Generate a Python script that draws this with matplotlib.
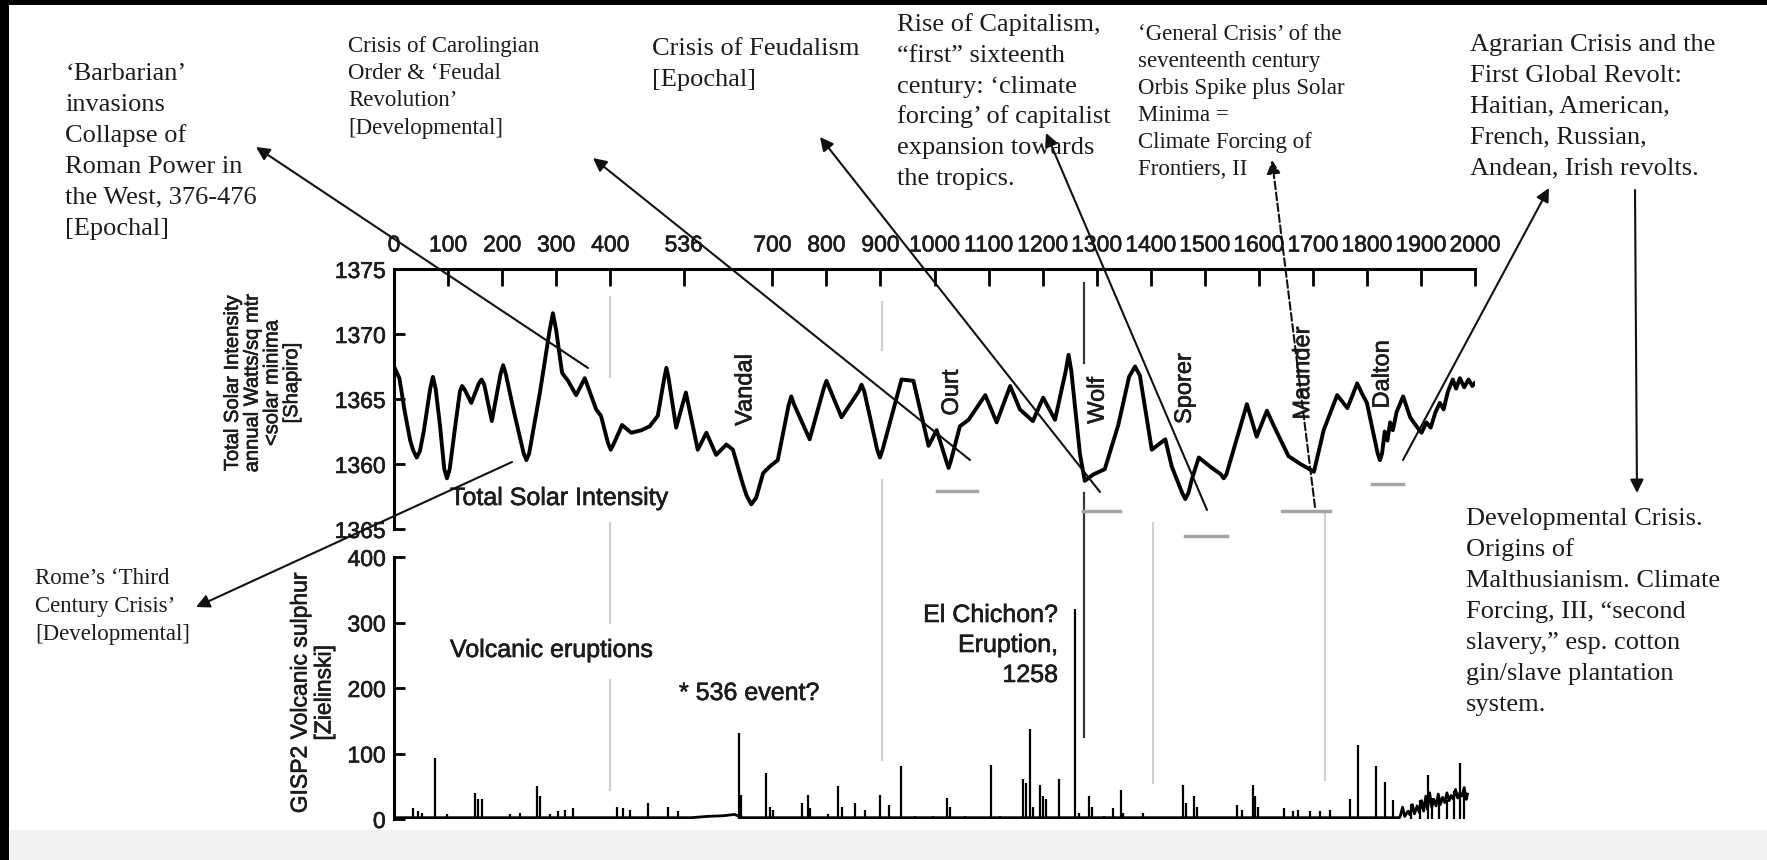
import matplotlib
matplotlib.use('Agg')
import matplotlib.pyplot as plt
import matplotlib.patheffects as pe
from matplotlib.transforms import blended_transform_factory

W, H = 1767, 860
SANS = ['Liberation Sans', 'DejaVu Sans']
SERIF = ['Liberation Serif', 'DejaVu Serif']
INK = '#1c1c1c'
HEAVY = [pe.withStroke(linewidth=0.45, foreground=INK)]

# Total solar intensity (Shapiro), W/m2
tsi_years = [0, 10, 20, 30, 36, 42, 48, 55, 67, 72, 77, 85, 93, 98, 103, 112, 122, 126, 131,
             143, 157, 162, 167, 181, 197, 202, 207, 222, 240, 245, 250, 270, 288, 294, 300,
             311, 322, 337, 353, 374, 383, 396, 401, 406, 422, 439, 458, 473, 488, 500, 504,
             508, 522, 540, 562, 578, 596, 615, 627, 645, 652, 661, 670, 683, 695, 710, 730,
             735, 740, 769, 795, 800, 805, 828, 860, 865, 870, 894, 899, 904, 939, 961, 989,
             1004, 1022, 1026, 1030, 1047, 1063, 1094, 1115, 1140, 1158, 1182, 1201, 1223,
             1243, 1248, 1253, 1269, 1278, 1294, 1315, 1340, 1360, 1371, 1380, 1402, 1427,
             1439, 1458, 1464, 1470, 1476, 1489, 1510, 1530, 1535, 1540, 1578, 1596, 1615,
             1627, 1655, 1677, 1702, 1720, 1745, 1764, 1782, 1790, 1800, 1820, 1824, 1828,
             1833, 1838, 1843, 1848, 1855, 1867, 1880, 1890, 1901, 1910, 1918, 1927, 1935,
             1942, 1950, 1959, 1965, 1972, 1980, 1988, 1995, 2001]
tsi_vals = [1367.5, 1366.6, 1364.0, 1361.8, 1361.0, 1360.5, 1361.0, 1362.5, 1365.8, 1366.7,
            1365.8, 1363.0, 1359.6, 1358.9, 1359.6, 1362.5, 1365.6, 1366.0, 1365.7, 1364.7,
            1366.2, 1366.5, 1366.1, 1363.3, 1366.9, 1367.6, 1366.9, 1364.0, 1360.8, 1360.3,
            1360.8, 1365.5, 1370.3, 1371.6, 1370.3, 1367.0, 1366.4, 1365.3, 1366.6, 1364.2,
            1363.7, 1361.6, 1361.1, 1361.5, 1363.0, 1362.4, 1362.6, 1362.9, 1363.7, 1366.6,
            1367.4, 1366.6, 1362.8, 1365.5, 1361.1, 1362.4, 1360.7, 1361.5, 1361.1, 1358.5,
            1357.6, 1356.9, 1357.4, 1359.3, 1359.8, 1360.3, 1364.5, 1365.2, 1364.6, 1361.9,
            1365.8, 1366.4, 1365.9, 1363.6, 1365.6, 1366.1, 1365.6, 1361.1, 1360.5, 1361.1,
            1366.5, 1366.4, 1361.4, 1362.6, 1360.2, 1359.7, 1360.2, 1362.9, 1363.4, 1365.3,
            1363.2, 1366.0, 1364.2, 1363.3, 1365.1, 1363.4, 1367.2, 1368.4, 1367.2, 1360.8,
            1358.7, 1359.2, 1359.6, 1363.0, 1366.7, 1367.5, 1366.8, 1361.1, 1361.9, 1359.8,
            1357.8, 1357.3, 1357.8, 1358.8, 1360.5, 1359.8, 1359.2, 1358.9, 1359.2, 1364.6,
            1362.1, 1364.1, 1363.0, 1360.6, 1360.0, 1359.4, 1362.6, 1365.3, 1364.3, 1366.2,
            1365.5, 1364.7, 1360.8, 1360.3, 1360.8, 1362.5, 1361.8, 1363.2, 1362.6, 1364.0,
            1365.2, 1363.6, 1363.0, 1362.4, 1363.2, 1362.8, 1364.0, 1364.7, 1364.2, 1365.6,
            1366.5, 1365.8, 1366.6, 1365.9, 1366.5, 1366.0, 1366.3]

# GISP2 volcanic sulphur (Zielinski), spikes
volc_years = [36, 45, 51, 76, 98, 150, 156, 162, 214, 233, 265, 270, 289, 304, 317, 332,
              413, 424, 436, 470, 507, 526, 639, 642, 689, 695, 701, 754, 766, 769, 803,
              822, 828, 853, 871, 899, 915, 938, 964, 998, 1024, 1029, 1057, 1105, 1121,
              1164, 1169, 1177, 1182, 1195, 1201, 1207, 1231, 1260, 1268, 1285, 1291, 1313,
              1331, 1345, 1349, 1385, 1460, 1465, 1480, 1485, 1559, 1568, 1589, 1593, 1599,
              1646, 1664, 1673, 1695, 1713, 1732, 1769, 1784, 1817, 1834, 1848, 1882, 1898,
              1913, 1921, 1933, 1948, 1961, 1973, 1979]
volc_vals = [17, 12, 9, 93, 7, 40, 30, 30, 7, 9, 50, 35, 7, 12, 14, 17,
             19, 17, 14, 24, 19, 12, 131, 37, 70, 19, 14, 24, 37, 17, 7,
             50, 19, 24, 13, 37, 22, 81, 4, 4, 32, 19, 4, 83, 4,
             61, 55, 137, 19, 52, 35, 30, 61, 321, 9, 35, 19, 4,
             17, 44, 9, 9, 52, 24, 35, 19, 22, 14, 52, 35, 19,
             17, 12, 14, 12, 12, 14, 31, 113, 81, 57, 29, 23, 29,
             67, 32, 37, 29, 42, 86, 44]
# background level between the spikes
base_years = [0, 550, 580, 610, 630, 645, 1860, 1862, 1866, 1870, 1876, 1880, 1884, 1888,
              1893, 1897, 1901, 1905, 1909, 1912, 1916, 1920, 1924, 1928, 1932, 1936, 1940,
              1944, 1948, 1952, 1956, 1960, 1964, 1968, 1972, 1976, 1980, 1984, 1986]
base_vals = [2, 2, 4, 5, 7, 2, 2, 5, 18, 4, 12, 6, 22, 8, 20, 10, 28, 12, 35, 15, 40, 18,
             30, 20, 38, 22, 33, 25, 40, 28, 36, 30, 45, 32, 40, 35, 48, 30, 38]

year_ticks = [0, 100, 200, 300, 400, 536, 700, 800, 900, 1000, 1100, 1200, 1300, 1400,
              1500, 1600, 1700, 1800, 1900, 2000]
tsi_ticks = [1355, 1360, 1365, 1370, 1375]
tsi_ticklabels = ['1365', '1360', '1365', '1370', '1375']
volc_ticks = [0, 100, 200, 300, 400]

minima_names = ['Vandal', 'Ourt', 'Wolf', 'Sporer', 'Maunder', 'Dalton']
minima_name_x = [650, 1032, 1302, 1463, 1682, 1829]
minima_name_y = [1365.7, 1365.5, 1364.9, 1365.8, 1367.0, 1366.9]
minima_start = [1005, 1275, 1463, 1643, 1810]
minima_end = [1078, 1343, 1541, 1732, 1867]
minima_level = [1357.9, 1356.4, 1354.5, 1356.4, 1358.5]

fig = plt.figure(figsize=(W / 100, H / 100), dpi=100)
fig.patch.set_facecolor('white')

under = fig.add_axes([0, 0, 1, 1], zorder=0, label='under')
over = fig.add_axes([0, 0, 1, 1], zorder=3, label='over')
for a in (under, over):
    a.set_xlim(0, W)
    a.set_ylim(H, 0)
    a.axis('off')
    a.patch.set_alpha(0)

ax1 = fig.add_axes([394 / W, 1 - 529 / H, 1081 / W, 260 / H], zorder=1)
ax2 = fig.add_axes([394 / W, 1 - 819 / H, 1081 / W, 262 / H], zorder=1)
for a in (ax1, ax2):
    a.patch.set_alpha(0)
    a.set_xlim(0, 2000)
    a.spines['right'].set_visible(False)
    a.spines['bottom'].set_visible(False)
    for s in ('left', 'top'):
        a.spines[s].set_linewidth(2.2)

# screenshot frame
under.fill_between([0, W], 830, 860, color='#f2f2f2', lw=0)
over.fill_between([0, W], 0, 5, color='black', lw=0)
over.fill_between([0, 9], 0, H, color='black', lw=0)

# top panel: solar intensity
ax1.plot(tsi_years, tsi_vals, color='black', lw=2.8, solid_joinstyle='round',
         solid_capstyle='round', zorder=3)
ax1.set_ylim(1355, 1375)
ax1.xaxis.tick_top()
ax1.set_xticks(year_ticks)
ax1.set_xticklabels([str(t) for t in year_ticks], fontfamily=SANS, fontsize=16.5)
ax1.set_yticks(tsi_ticks)
ax1.set_yticklabels(tsi_ticklabels, fontfamily=SANS, fontsize=16.5)
ax1.tick_params(axis='x', direction='in', length=12, width=2, pad=9)
ax1.tick_params(axis='y', direction='in', length=8, width=2, pad=6)

for i in range(len(minima_start)):
    ax1.plot([minima_start[i], minima_end[i]], [minima_level[i], minima_level[i]],
             color='#a5a5a5', lw=2.5, clip_on=False, zorder=2)
for i in range(len(minima_names)):
    ax1.text(minima_name_x[i], minima_name_y[i], minima_names[i], rotation=90,
             ha='center', va='center', fontfamily=SANS, fontsize=17, color=INK,
             path_effects=HEAVY)

# bottom panel: volcanic sulphur
ax2.spines['top'].set_visible(False)
ax2.vlines(volc_years, 0, volc_vals, color='black', lw=1.6, zorder=3)
ax2.plot(base_years, base_vals, color='black', lw=2.0, zorder=3)
ax2.set_ylim(0, 400)
ax2.set_xticks([])
ax2.set_yticks(volc_ticks)
ax2.set_yticklabels([str(t) for t in volc_ticks], fontfamily=SANS, fontsize=16.5)
ax2.tick_params(axis='y', direction='in', length=8, width=2, pad=6)

for lab in ax1.get_xticklabels() + ax1.get_yticklabels() + ax2.get_yticklabels():
    lab.set_path_effects(HEAVY)
    lab.set_color(INK)

# faint guide lines running across both panels
yr_px = blended_transform_factory(ax1.transData, under.transData)
guide_years = [400, 400, 400, 902, 902, 1405, 1722]
guide_top = [297, 523, 680, 302, 480, 523, 513]
guide_bot = [377, 623, 790, 350, 760, 783, 780]
for yr, t, b in zip(guide_years, guide_top, guide_bot):
    under.plot([yr, yr], [t, b], color='#d0d0d0', lw=1.5, transform=yr_px)
for t, b in [(283, 363), (493, 737)]:
    under.plot([1276, 1276], [t, b], color='#3a3a3a', lw=1.6, transform=yr_px)

# y labels
fig.text(262 / W, 1 - 383 / H,
         'Total Solar Intensity\nannual Watts/sq mtr\n<solar minima\n[Shapiro]',
         rotation=90, ha='center', va='center', multialignment='center',
         fontfamily=SANS, fontsize=14.5, linespacing=1.05, color=INK, path_effects=HEAVY)
fig.text(312 / W, 1 - 693 / H, 'GISP2 Volcanic sulphur\n[Zielinski]',
         rotation=90, ha='center', va='center', multialignment='center',
         fontfamily=SANS, fontsize=16.5, linespacing=1.05, color=INK, path_effects=HEAVY)

# labels inside the panels
over.text(450, 498, 'Total Solar Intensity', fontfamily=SANS, fontsize=18,
          va='center', color=INK, path_effects=HEAVY)
over.text(450, 650, 'Volcanic eruptions', fontfamily=SANS, fontsize=18,
          va='center', color=INK, path_effects=HEAVY)
over.text(679, 693, '* 536 event?', fontfamily=SANS, fontsize=18, va='center', color=INK,
          path_effects=HEAVY)
for txt, y in zip(['El Chichon?', 'Eruption,', '1258'], [615, 645, 675]):
    over.text(1058, y, txt, fontfamily=SANS, fontsize=18, ha='right', va='center',
              color=INK, path_effects=HEAVY)

# historical notes
notes = [
    (65, 72, 31, 19, ['‘Barbarian’', 'invasions', 'Collapse of', 'Roman Power in',
                      'the West, 376-476', '[Epochal]']),
    (348, 45, 27.3, 16.5, ['Crisis of Carolingian', 'Order & ‘Feudal', 'Revolution’',
                           '[Developmental]']),
    (652, 47, 31, 19, ['Crisis of Feudalism', '[Epochal]']),
    (897, 23, 30.8, 19, ['Rise of Capitalism,', '“first” sixteenth', 'century: ‘climate',
                         'forcing’ of capitalist', 'expansion towards', 'the tropics.']),
    (1138, 33, 27, 16.5, ['‘General Crisis’ of the', 'seventeenth century',
                          'Orbis Spike plus Solar', 'Minima =', 'Climate Forcing of',
                          'Frontiers, II']),
    (1470, 43, 31, 19, ['Agrarian Crisis and the', 'First Global Revolt:',
                        'Haitian, American,', 'French, Russian,', 'Andean, Irish revolts.']),
    (1466, 517, 31, 19, ['Developmental Crisis.', 'Origins of', 'Malthusianism. Climate',
                         'Forcing, III, “second', 'slavery,” esp. cotton',
                         'gin/slave plantation', 'system.']),
    (35, 577, 28, 16.5, ['Rome’s ‘Third', 'Century Crisis’', '[Developmental]']),
]
for x, y0, dy, fs, lines in notes:
    for k, line in enumerate(lines):
        over.text(x, y0 + k * dy + 0.3 * fs / 0.72, line, fontfamily=SERIF, fontsize=fs,
                  va='baseline', ha='left', color=INK)

arrows = [((588, 368), (256, 147), '-'), ((970, 460), (593, 158), '-'),
          ((1100, 492), (820, 137), '-'), ((1207, 510), (1046, 133), '-'),
          ((1315, 507), (1272, 160), '--'), ((1403, 460), (1549, 188), '-'),
          ((1635, 190), (1637, 493), '-'), ((512, 462), (196, 607), '-')]
for tail, head, ls in arrows:
    over.annotate('', xy=head, xytext=tail,
                  arrowprops=dict(arrowstyle='-|>', color='#111111', lw=1.5, ls=ls,
                                  mutation_scale=20, shrinkA=0, shrinkB=0))

fig.savefig('out.png', dpi=100)
